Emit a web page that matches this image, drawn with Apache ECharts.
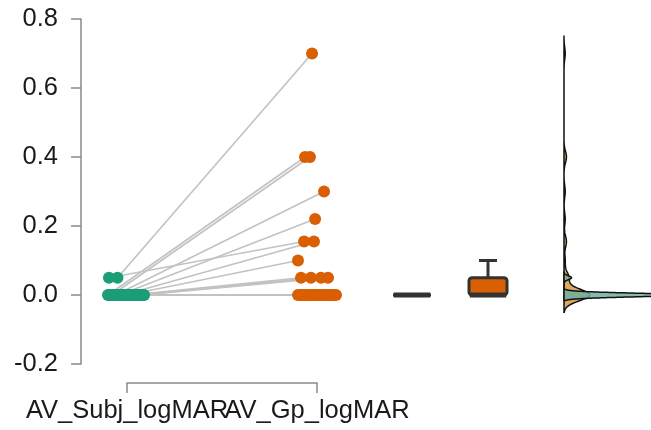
<!DOCTYPE html>
<html><head><meta charset="utf-8">
<script src="https://cdn.jsdelivr.net/npm/echarts@6/dist/echarts.min.js"></script>
<style>html,body{margin:0;padding:0;background:#fff}#c{width:651px;height:430px}</style>
</head><body><div id="c"></div>
<script>
// ---- data ----
const categories = ['AV_Subj_logMAR', 'AV_Gp_logMAR'];
const yTicks = [-0.2, 0.0, 0.2, 0.4, 0.6, 0.8];
const subjValues = [0.05, 0, 0, 0, 0, 0.05, 0, 0, 0, 0, 0, 0,
  0, 0, 0, 0, 0, 0, 0, 0, 0, 0, 0, 0, 0, 0, 0, 0, 0, 0, 0, 0, 0];
const gpValues = [0.7, 0.4, 0.4, 0.3, 0.22, 0.155, 0.155, 0.1, 0.05, 0.05, 0.05, 0.05,
  0, 0, 0, 0, 0, 0, 0, 0, 0, 0, 0, 0, 0, 0, 0, 0, 0, 0, 0, 0, 0];
const subjJitter = [-0.05, -0.10, -0.08, -0.06, -0.04, -0.095, -0.02, 0.00, 0.02, 0.04, 0.06, 0.08,
  0.09, -0.09, -0.07, -0.05, -0.03, -0.01, 0.01, 0.03, 0.05, 0.07, -0.095, -0.075, -0.055, -0.035,
  -0.015, 0.005, 0.025, 0.045, 0.065, 0.085, 0.0];
const gpJitter = [-0.026, -0.063, -0.037, 0.037, -0.01, -0.068, -0.016, -0.10, -0.084, -0.032, 0.021, 0.058,
  -0.10, -0.09, -0.08, -0.07, -0.06, -0.05, -0.04, -0.03, -0.02, -0.01, 0.0, 0.01, 0.02, 0.03, 0.04,
  0.05, 0.06, 0.07, 0.08, 0.09, 0.10];

// ---- styles / layout ----
const GREEN = '#1b9e77', ORANGE = '#d95f02';
const FONT = 'Liberation Sans, Arial, sans-serif';
const AXIS_COL = '#8a8a8a';
const BOX_POS = [2.5, 2.9], BOX_W = 0.2, CAP_W = 0.095;
const VIOLIN_BASE = 3.3, DENS_SCALE = 0.0089;
const LABEL_SIZE = 25.5;

function quantile(s, p) { const h = (s.length - 1) * p, lo = Math.floor(h); const hi = Math.min(lo + 1, s.length - 1); return s[lo] + (h - lo) * (s[hi] - s[lo]); }
function boxStats(arr) {
  const s = [...arr].sort((a, b) => a - b);
  const q1 = quantile(s, .25), med = quantile(s, .5), q3 = quantile(s, .75), iqr = q3 - q1;
  const lo = Math.min(...s.filter(v => v >= q1 - 1.5 * iqr - 1e-9));
  const hi = Math.max(...s.filter(v => v <= q3 + 1.5 * iqr + 1e-9));
  return [lo, q1, med, q3, hi];
}
function sd(a) { const m = a.reduce((x, y) => x + y, 0) / a.length; return Math.sqrt(a.reduce((x, y) => x + (y - m) * (y - m), 0) / (a.length - 1)); }
function bwNrd0(a) { const s = [...a].sort((x, y) => x - y); const h = sd(a); let lo = Math.min(h, (quantile(s, .75) - quantile(s, .25)) / 1.34); if (!lo) lo = h; return 0.9 * lo * Math.pow(a.length, -0.2); }
function kde(a) {
  const bw = bwNrd0(a), mn = Math.min(...a) - 3 * bw, mx = Math.max(...a) + 3 * bw, N = 400, pts = [];
  for (let i = 0; i <= N; i++) {
    const y = mn + (mx - mn) * i / N; let d = 0;
    for (const v of a) { const z = (y - v) / bw; d += Math.exp(-0.5 * z * z); }
    pts.push([y, d / (a.length * bw * Math.sqrt(2 * Math.PI))]);
  }
  return pts;
}
const dens = [kde(gpValues), kde(subjValues)];
const densFill = ['rgba(214,150,72,0.85)', 'rgba(110,175,160,0.85)'];

const pairData = subjValues.map((v, i) => [1 + subjJitter[i], v, 2 + gpJitter[i], gpValues[i]]);
const boxData = [[BOX_POS[0], ...boxStats(subjValues), 0], [BOX_POS[1], ...boxStats(gpValues), 1]];
const boxColors = [GREEN, ORANGE];

function catAxis(which, showLine) {
  return { gridIndex: 1, type: 'value', min: 1, max: 2, interval: 1, position: 'bottom',
    axisLine: { show: showLine, lineStyle: { color: AXIS_COL, width: 1.5 } },
    axisTick: { show: showLine, length: 10, inside: false, lineStyle: { color: AXIS_COL, width: 1.5 } },
    splitLine: { show: false },
    axisLabel: { margin: 15, fontSize: LABEL_SIZE, color: '#1a1a1a', fontFamily: FONT, hideOverlap: false,
      showMinLabel: true, showMaxLabel: true,
      formatter: v => (Math.round(v) - 1 === which ? categories[which] : '') } };
}

const chart = echarts.init(document.getElementById('c'), null, { renderer: 'canvas' });
chart.setOption({
  animation: false,
  backgroundColor: '#fff',
  textStyle: { fontFamily: FONT },
  grid: [
    { left: 81, right: 0, top: 19, height: 345 },
    { left: 127, width: 190, top: 382, height: 1 }
  ],
  xAxis: [
    { gridIndex: 0, type: 'value', min: 1 - 46 / 190, max: 1 - 46 / 190 + 3, show: false },
    catAxis(0, true),
    catAxis(1, false)
  ],
  yAxis: [
    { gridIndex: 0, type: 'value', min: yTicks[0], max: yTicks[yTicks.length - 1], interval: 0.2,
      axisLine: { show: true, lineStyle: { color: AXIS_COL, width: 1.5 } },
      axisTick: { show: true, length: 10, lineStyle: { color: AXIS_COL, width: 1.5 } },
      splitLine: { show: false },
      axisLabel: { margin: 23, fontSize: LABEL_SIZE, color: '#1a1a1a', fontFamily: FONT, formatter: v => v.toFixed(1) } },
    { gridIndex: 1, type: 'value', min: 0, max: 1, show: false }
  ],
  series: [
    { type: 'custom', xAxisIndex: 0, yAxisIndex: 0, z: 1, data: pairData,
      renderItem: (p, api) => {
        const a = api.coord([api.value(0), api.value(1)]), b = api.coord([api.value(2), api.value(3)]);
        return { type: 'line', shape: { x1: a[0], y1: a[1], x2: b[0], y2: b[1] }, style: { stroke: '#c2c2c2', lineWidth: 1.6 } };
      } },
    { type: 'scatter', z: 3, symbolSize: 12, itemStyle: { color: GREEN, opacity: 1 },
      data: subjValues.map((v, i) => [1 + subjJitter[i], v]) },
    { type: 'scatter', z: 3, symbolSize: 12, itemStyle: { color: ORANGE, opacity: 1 },
      data: gpValues.map((v, i) => [2 + gpJitter[i], v]) },
    { type: 'custom', z: 4, data: boxData,
      renderItem: (p, api) => {
        const x = api.value(0), lo = api.value(1), q1 = api.value(2), med = api.value(3), q3 = api.value(4), hi = api.value(5), gi = api.value(6);
        const tl = api.coord([x - BOX_W / 2, q3]), br = api.coord([x + BOX_W / 2, q1]);
        const ch = [];
        const ln = (x1, y1, x2, y2, w) => { const a = api.coord([x1, y1]), b = api.coord([x2, y2]); ch.push({ type: 'line', shape: { x1: a[0], y1: a[1], x2: b[0], y2: b[1] }, style: { stroke: '#333', lineWidth: w, lineCap: 'butt' } }); };
        if (hi > q3) { ln(x, q3, x, hi, 3); ln(x - CAP_W / 2, hi, x + CAP_W / 2, hi, 3); }
        if (lo < q1) { ln(x, q1, x, lo, 3); ln(x - CAP_W / 2, lo, x + CAP_W / 2, lo, 3); }
        ch.push({ type: 'rect', shape: { x: tl[0], y: tl[1], width: br[0] - tl[0], height: br[1] - tl[1], r: 3 },
          style: { fill: boxColors[gi], stroke: '#333', lineWidth: 3 } });
        ln(x - BOX_W / 2 + 0.004, med, x + BOX_W / 2 - 0.004, med, 5);
        return { type: 'group', children: ch };
      } },
    { type: 'custom', z: 2, clip: true, data: [[0], [1]],
      renderItem: (p, api) => {
        const g = api.value(0), pts = [];
        const d = dens[g];
        pts.push(api.coord([VIOLIN_BASE, d[0][0]]));
        for (const [y, v] of d) pts.push(api.coord([VIOLIN_BASE + v * DENS_SCALE, y]));
        pts.push(api.coord([VIOLIN_BASE, d[d.length - 1][0]]));
        return { type: 'polygon', shape: { points: pts }, style: { fill: densFill[g], stroke: '#111', lineWidth: 1.5 } };
      } }
  ]
});
</script></body></html>
